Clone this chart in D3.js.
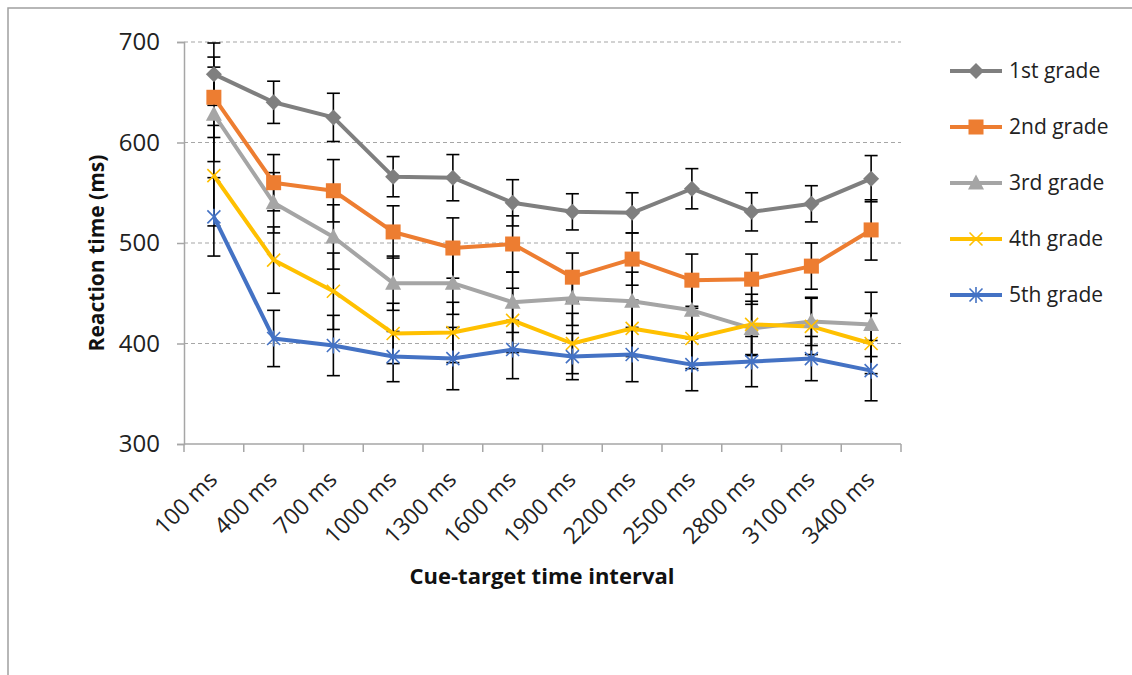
<!DOCTYPE html>
<html>
<head>
<meta charset="utf-8">
<script src="https://cdn.jsdelivr.net/npm/d3@7"></script>
<style>
  body { margin: 0; background: #fff; }
  svg { display: block; font-family: "Open Sans", sans-serif; }
</style>
</head>
<body>
<div id="chart"></div>
<script>
const intervals = ['100 ms', '400 ms', '700 ms', '1000 ms', '1300 ms', '1600 ms',
                   '1900 ms', '2200 ms', '2500 ms', '2800 ms', '3100 ms', '3400 ms'];
const yTicks = [300, 400, 500, 600, 700];

const grade1 = [668, 640, 625, 566, 565, 540, 531, 530, 554, 531, 539, 564];
const grade2 = [645, 560, 552, 511, 495, 499, 466, 484, 463, 464, 477, 513];
const grade3 = [628, 540, 506, 460, 460, 441, 445, 442, 433, 415, 422, 419];
const grade4 = [567, 483, 452, 410, 411, 423, 400, 415, 405, 419, 417, 400];
const grade5 = [526, 405, 398, 387, 385, 394, 387, 389, 379, 382, 385, 373];

// error bar half-widths
const err1 = [31, 21, 24, 20, 23, 23, 18, 20, 20, 19, 18, 23];
const err2 = [40, 28, 31, 26, 30, 28, 24, 26, 26, 25, 23, 30];
const err3 = [47, 30, 32, 27, 31, 30, 27, 29, 28, 27, 24, 32];
const err4 = [50, 33, 38, 30, 30, 32, 30, 28, 30, 30, 28, 30];
const err5 = [39, 28, 30, 25, 31, 29, 23, 27, 26, 25, 22, 30];

const series = [
  { name: '1st grade', values: grade1, err: err1, color: '#7f7f7f', marker: 'diamond' },
  { name: '2nd grade', values: grade2, err: err2, color: '#ed7d31', marker: 'square' },
  { name: '3rd grade', values: grade3, err: err3, color: '#a5a5a5', marker: 'triangle' },
  { name: '4th grade', values: grade4, err: err4, color: '#ffc000', marker: 'cross' },
  { name: '5th grade', values: grade5, err: err5, color: '#4472c4', marker: 'star' }
];

const W = 1132, H = 675;
const svg = d3.select('#chart').append('svg')
    .attr('width', W)
    .attr('height', H);

// outer chart border (runs off the right and bottom edges)
svg.append('rect')
    .attr('x', 8).attr('y', 8)
    .attr('width', W + 20).attr('height', H + 20)
    .attr('fill', 'none')
    .attr('stroke', '#a0a0a0')
    .attr('stroke-width', 1.5);

const plotL = 184, plotR = 901, plotT = 42, plotB = 444;

const x = d3.scaleBand()
    .domain(intervals)
    .range([plotL, plotR]);

const y = d3.scaleLinear()
    .domain([300, 700])
    .range([plotB, plotT]);

// gridlines
svg.append('g')
    .selectAll('line')
    .data(yTicks.filter(d => d > 300))
    .join('line')
      .attr('x1', plotL).attr('x2', plotR)
      .attr('y1', d => y(d)).attr('y2', d => y(d))
      .attr('stroke', '#a6a6a6')
      .attr('stroke-width', 1.2)
      .attr('stroke-dasharray', '4,3');

// y axis
const yAxis = svg.append('g')
    .attr('transform', `translate(${plotL},0)`)
    .call(d3.axisLeft(y).tickValues(yTicks).tickSize(7).tickPadding(17));
yAxis.select('.domain').attr('stroke', '#a6a6a6').attr('stroke-width', 1.5);
yAxis.selectAll('.tick line').attr('stroke', '#a6a6a6').attr('stroke-width', 1.5);
yAxis.selectAll('.tick text')
    .attr('font-size', 24)
    .attr('font-family', '"Open Sans", sans-serif')
    .attr('fill', '#222');

// x axis: ticks on category boundaries
const xAxisG = svg.append('g');
xAxisG.append('line')
    .attr('x1', plotL).attr('x2', plotR)
    .attr('y1', plotB).attr('y2', plotB)
    .attr('stroke', '#a6a6a6').attr('stroke-width', 1.5);
xAxisG.selectAll('line.tk')
    .data(intervals.concat(['end']))
    .join('line')
      .attr('class', 'tk')
      .attr('x1', (d, i) => i < intervals.length ? x(d) : plotR)
      .attr('x2', (d, i) => i < intervals.length ? x(d) : plotR)
      .attr('y1', plotB).attr('y2', plotB + 8)
      .attr('stroke', '#a6a6a6').attr('stroke-width', 1.5);
xAxisG.selectAll('text')
    .data(intervals)
    .join('text')
      .attr('transform', d => `translate(${x(d) + x.bandwidth() / 2 + 5},${plotB + 37}) rotate(-45)`)
      .attr('text-anchor', 'end')
      .attr('font-size', 23)
      .attr('fill', '#222')
      .text(d => d);

// axis titles
svg.append('text')
    .attr('x', 542)
    .attr('y', 584)
    .attr('text-anchor', 'middle')
    .attr('font-weight', 'bold')
    .attr('font-size', 22)
    .attr('fill', '#111')
    .text('Cue-target time interval');

svg.append('text')
    .attr('transform', 'translate(104,253) rotate(-90)')
    .attr('text-anchor', 'middle')
    .attr('font-weight', 'bold')
    .attr('font-size', 21)
    .attr('fill', '#111')
    .text('Reaction time (ms)');

const cx = d => x(d) + x.bandwidth() / 2;

// error bars
const capW = 6.5;
series.forEach(s => {
  const g = svg.append('g').attr('stroke', '#000').attr('stroke-width', 1.6);
  intervals.forEach((c, i) => {
    const hi = y(s.values[i] + s.err[i]), lo = y(s.values[i] - s.err[i]);
    g.append('line').attr('x1', cx(c)).attr('x2', cx(c)).attr('y1', hi).attr('y2', lo);
    g.append('line').attr('x1', cx(c) - capW).attr('x2', cx(c) + capW).attr('y1', hi).attr('y2', hi);
    g.append('line').attr('x1', cx(c) - capW).attr('x2', cx(c) + capW).attr('y1', lo).attr('y2', lo);
  });
});

const line = d3.line()
    .x((d, i) => cx(intervals[i]))
    .y(d => y(d));

function drawMarker(g, type, color) {
  if (type === 'diamond') {
    g.append('path').attr('d', 'M0,-8L8,0L0,8L-8,0Z').attr('fill', color);
  } else if (type === 'square') {
    g.append('rect').attr('x', -7.5).attr('y', -7.5).attr('width', 15).attr('height', 15).attr('fill', color);
  } else if (type === 'triangle') {
    g.append('path').attr('d', 'M0,-8.5L8,6.5L-8,6.5Z').attr('fill', color);
  } else if (type === 'cross') {
    g.append('path').attr('d', 'M-6.5,-6.5L6.5,6.5M-6.5,6.5L6.5,-6.5').attr('stroke', color).attr('stroke-width', 1.6).attr('fill', 'none');
  } else if (type === 'star') {
    g.append('path').attr('d', 'M-6.5,-6.5L6.5,6.5M-6.5,6.5L6.5,-6.5M0,-8L0,8').attr('stroke', color).attr('stroke-width', 1.6).attr('fill', 'none');
  }
}

series.forEach(s => {
  svg.append('path')
      .attr('d', line(s.values))
      .attr('fill', 'none')
      .attr('stroke', s.color)
      .attr('stroke-width', 4)
      .attr('stroke-linejoin', 'round');
});

series.forEach(s => {
  s.values.forEach((v, i) => {
    const g = svg.append('g').attr('transform', `translate(${cx(intervals[i])},${y(v)})`);
    drawMarker(g, s.marker, s.color);
  });
});

// legend
const legend = svg.append('g').attr('transform', 'translate(950,71)');
series.forEach((s, i) => {
  const g = legend.append('g').attr('transform', `translate(0,${i * 56})`);
  g.append('line')
      .attr('x1', 0).attr('x2', 52)
      .attr('stroke', s.color).attr('stroke-width', 4);
  const m = g.append('g').attr('transform', 'translate(26,0)');
  drawMarker(m, s.marker, s.color);
  g.append('text')
      .attr('x', 59).attr('y', 0)
      .attr('dy', '0.35em')
      .attr('font-size', 21)
      .attr('fill', '#222')
      .text(s.name);
});
</script>
</body>
</html>
